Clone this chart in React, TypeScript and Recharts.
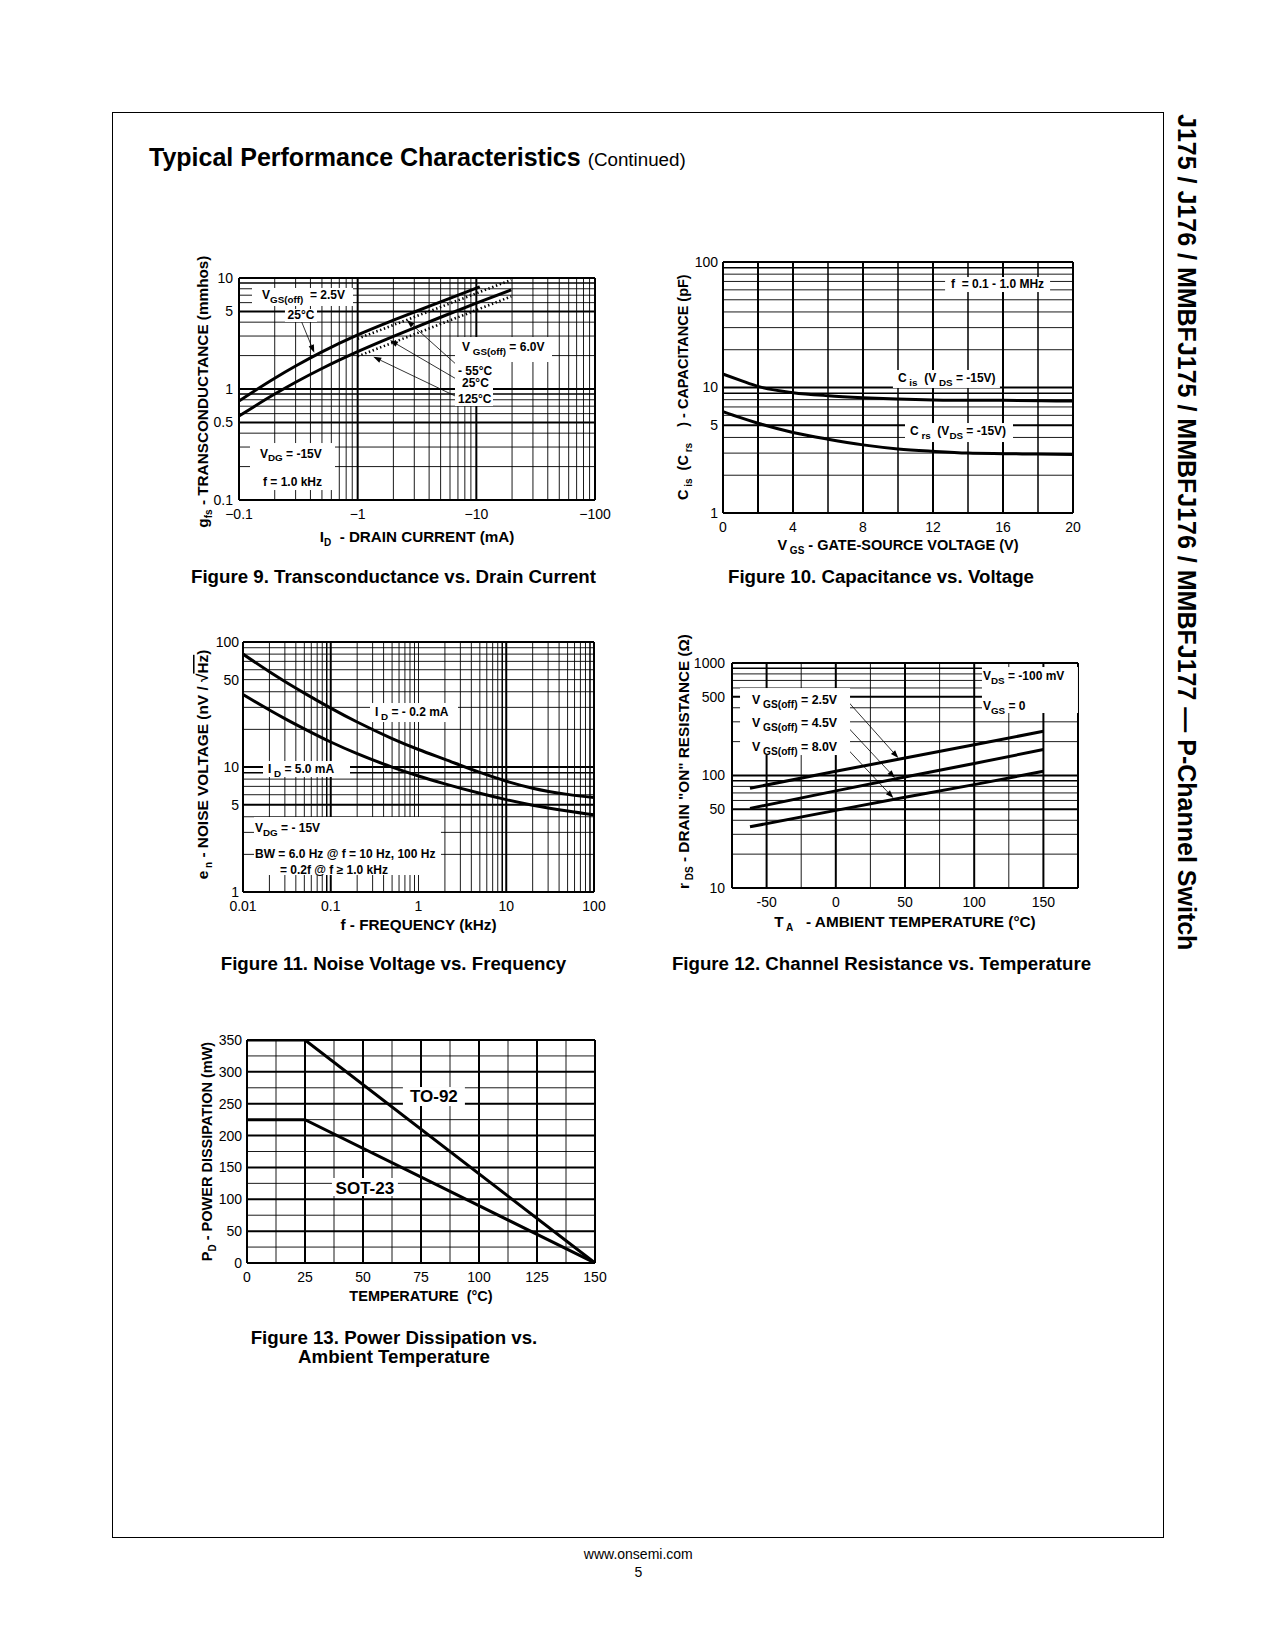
import React from 'react';
import { LineChart, Line, XAxis, YAxis, ReferenceLine, ReferenceDot, Label } from 'recharts';

const FONT = "'Liberation Sans', Arial, Helvetica, sans-serif";

type Pt = { x: number; y: number };
type Part = { t: string; sub?: boolean; over?: boolean };
const P = (t: string, sub = false): Part => ({ t, sub });

// ---------------- Figure 9: Transconductance vs. Drain Current ----------------
const fig9XTicks = [0.1, 1, 10, 100];
const fig9YTicks = [0.1, 0.5, 1, 5, 10];
const fig9Vgs25_25C: Pt[] = [
  { x: 0.1, y: 0.78 }, { x: 0.2, y: 1.25 }, { x: 0.3, y: 1.61 }, { x: 0.5, y: 2.16 }, { x: 1, y: 3.07 },
  { x: 2, y: 4.17 }, { x: 3, y: 4.94 }, { x: 5, y: 6.09 }, { x: 10, y: 8.09 }, { x: 10.7, y: 8.32 },
];
const fig9Vgs60_25C: Pt[] = [
  { x: 0.1, y: 0.57 }, { x: 0.2, y: 0.9 }, { x: 0.3, y: 1.15 }, { x: 0.5, y: 1.53 }, { x: 1, y: 2.17 },
  { x: 2, y: 2.98 }, { x: 3, y: 3.56 }, { x: 5, y: 4.43 }, { x: 10, y: 5.93 }, { x: 19.7, y: 7.83 },
];
const fig9Vgs60_m55C: Pt[] = [
  { x: 1, y: 2.84 }, { x: 2, y: 3.77 }, { x: 3, y: 4.45 }, { x: 5, y: 5.48 }, { x: 10, y: 7.28 }, { x: 19.7, y: 9.6 },
];
const fig9Vgs60_125C: Pt[] = [
  { x: 1, y: 1.97 }, { x: 2, y: 2.63 }, { x: 3, y: 3.11 }, { x: 5, y: 3.85 }, { x: 10, y: 5.14 }, { x: 19.7, y: 6.83 },
];

// ---------------- Figure 10: Capacitance vs. Voltage ----------------
const fig10XTicks = [0, 4, 8, 12, 16, 20];
const fig10YTicks = [1, 5, 10, 100];
const fig10Cis: Pt[] = [
  { x: 0, y: 12.8 }, { x: 1, y: 11.4 }, { x: 2, y: 10.2 }, { x: 4, y: 9.1 }, { x: 6, y: 8.6 }, { x: 8, y: 8.3 },
  { x: 10, y: 8.1 }, { x: 12, y: 7.96 }, { x: 14, y: 7.9 }, { x: 16, y: 7.9 }, { x: 20, y: 7.8 },
];
const fig10Crs: Pt[] = [
  { x: 0, y: 6.43 }, { x: 1, y: 5.75 }, { x: 2, y: 5.19 }, { x: 4, y: 4.38 }, { x: 6, y: 3.87 }, { x: 8, y: 3.49 },
  { x: 10, y: 3.24 }, { x: 12, y: 3.1 }, { x: 14, y: 3.0 }, { x: 16, y: 2.97 }, { x: 18, y: 2.95 }, { x: 20, y: 2.93 },
];

// ---------------- Figure 11: Noise Voltage vs. Frequency ----------------
const fig11XTicks = [0.01, 0.1, 1, 10, 100];
const fig11YTicks = [1, 5, 10, 50, 100];
const fig11Id02: Pt[] = [
  { x: 0.01, y: 80 }, { x: 0.02, y: 57.8 }, { x: 0.03, y: 48.3 }, { x: 0.05, y: 39 }, { x: 0.1, y: 29.6 }, { x: 0.2, y: 22.9 },
  { x: 0.5, y: 16.9 }, { x: 1, y: 13.8 }, { x: 2, y: 11.5 }, { x: 5, y: 9.06 }, { x: 10, y: 7.7 }, { x: 20, y: 6.77 },
  { x: 50, y: 6.04 }, { x: 100, y: 5.71 },
];
const fig11Id50: Pt[] = [
  { x: 0.01, y: 38 }, { x: 0.02, y: 28.6 }, { x: 0.03, y: 24.4 }, { x: 0.05, y: 20.2 }, { x: 0.1, y: 15.85 }, { x: 0.2, y: 12.78 },
  { x: 0.5, y: 9.98 }, { x: 1, y: 8.48 }, { x: 2, y: 7.33 }, { x: 5, y: 6.16 }, { x: 10, y: 5.48 }, { x: 20, y: 4.95 },
  { x: 50, y: 4.44 }, { x: 100, y: 4.14 },
];

// ---------------- Figure 12: Channel Resistance vs. Temperature ----------------
const fig12XTicks = [-50, 0, 50, 100, 150];
const fig12YTicks = [10, 50, 100, 500, 1000];
const fig12Vgs25: Pt[] = [{ x: -62, y: 77 }, { x: 0, y: 109 }, { x: 50, y: 143 }, { x: 100, y: 188 }, { x: 150, y: 247 }];
const fig12Vgs45: Pt[] = [{ x: -62, y: 51 }, { x: 0, y: 73 }, { x: 50, y: 97 }, { x: 100, y: 128 }, { x: 150, y: 170 }];
const fig12Vgs80: Pt[] = [{ x: -62, y: 35 }, { x: 0, y: 49 }, { x: 50, y: 64 }, { x: 100, y: 83 }, { x: 150, y: 109 }];

// ---------------- Figure 13: Power Dissipation vs. Ambient Temperature ----------------
const fig13XTicks = [0, 25, 50, 75, 100, 125, 150];
const fig13YTicks = [0, 50, 100, 150, 200, 250, 300, 350];
const fig13To92: Pt[] = [{ x: 0, y: 350 }, { x: 25, y: 350 }, { x: 150, y: 0 }];
const fig13Sot23: Pt[] = [{ x: 0, y: 225 }, { x: 25, y: 225 }, { x: 150, y: 0 }];

// ---------------- helpers ----------------
const logSteps = (lo: number, hi: number) => {
  const out: number[] = [];
  for (let d = lo; d < hi * 0.999; d = +(d * 10).toPrecision(3)) {
    for (let k = 1; k <= 9; k++) out.push(+(d * k).toPrecision(3));
  }
  out.push(hi);
  return out;
};
const linSteps = (lo: number, hi: number, step: number) => {
  const out: number[] = [];
  for (let v = lo; v <= hi + 1e-9; v += step) out.push(+v.toFixed(4));
  return out;
};
type Grid = { v: number; w: number }[];
const gridOf = (vals: number[], thick: number[], mid: number[] = []): Grid =>
  vals.map((v) => ({ v, w: thick.includes(v) ? 2 : mid.includes(v) ? 1.5 : 0.9 }));

function rich(parts: Part[], fs: number, subFs: number, shift: number) {
  let cur = 0;
  return parts.map((p, i) => {
    const target = p.sub ? shift : 0;
    const dy = target - cur;
    cur = target;
    return (
      <tspan
        key={i}
        dy={dy !== 0 ? dy : undefined}
        fontSize={p.sub ? subFs : fs}
        textDecoration={p.over ? 'overline' : undefined}
      >
        {p.t}
      </tspan>
    );
  });
}

type Series = { data: Pt[]; dotted?: boolean; curve: 'monotone' | 'linear' };
type AnnLine = { dx: number; dy: number; parts: Part[]; anchor?: 'start' | 'middle' };
type Ann = { x: number; y: number; w: number; h: number; fs: number; lines: AnnLine[] };
type Arrow = { from: Pt; to: Pt };
type FigSpec = {
  plot: [number, number, number, number];
  xLog: boolean;
  yLog: boolean;
  xDomain: [number, number];
  yDomain: [number, number];
  xTicks: number[];
  yTicks: number[];
  xFmt?: (v: number) => string;
  xGrid: Grid;
  yGrid: Grid;
  series: Series[];
  anns: Ann[];
  arrows: Arrow[];
  xTitle: Part[];
  yTitle: Part[];
  xTitleFs: number;
  yTitleFs: number;
  xTitleDy: number;
  yTitleDx: number;
  yTitleDy: number;
  yTickGap: number;
};

const ML = 70, MT = 30, MR = 30, MB = 60, YW = 40, XH = 30;

function ArrowShape(props: any) {
  const { x1, y1, x2, y2 } = props;
  if ([x1, y1, x2, y2].some((v) => typeof v !== 'number' || isNaN(v))) return <g />;
  const ang = Math.atan2(y2 - y1, x2 - x1);
  const L = 8, Wd = 2.8;
  const bx = x2 - L * Math.cos(ang), by = y2 - L * Math.sin(ang);
  const px = -Math.sin(ang) * Wd, py = Math.cos(ang) * Wd;
  return (
    <g>
      <line x1={x1} y1={y1} x2={bx} y2={by} stroke="#000" strokeWidth={0.8} />
      <polygon points={`${x2},${y2} ${bx + px},${by + py} ${bx - px},${by - py}`} fill="#000" />
    </g>
  );
}

function AnnShape({ a, cx, cy }: { a: Ann; cx: number; cy: number }) {
  if (typeof cx !== 'number' || typeof cy !== 'number') return <g />;
  return (
    <g>
      <rect x={cx} y={cy} width={a.w} height={a.h} fill="#fff" />
      {a.lines.map((ln, i) => (
        <text
          key={i}
          x={cx + ln.dx}
          y={cy + ln.dy}
          textAnchor={ln.anchor || 'start'}
          fontFamily={FONT}
          fontWeight="bold"
          fontSize={a.fs}
          fill="#000"
          style={{ whiteSpace: 'pre' }}
        >
          {rich(ln.parts, a.fs, a.fs * 0.82, a.fs * 0.33)}
        </text>
      ))}
    </g>
  );
}

function Fig({ s }: { s: FigSpec }) {
  const [PL, PT, PR, PB] = s.plot;
  const pw = PR - PL, ph = PB - PT;
  const W = pw + ML + MR, H = ph + MT + MB;
  const tickStyle = { fill: '#000', fontSize: 14, fontFamily: FONT };
  const xt = ML + pw / 2, yt = MT + ph + s.xTitleDy;
  const yx = ML + s.yTitleDx, yy = MT + ph / 2 + s.yTitleDy;
  const XTitle = () => (
    <text x={xt} y={yt} textAnchor="middle" fontFamily={FONT} fontWeight="bold" fontSize={s.xTitleFs} fill="#000" style={{ whiteSpace: 'pre' }}>
      {rich(s.xTitle, s.xTitleFs, 10, 4)}
    </text>
  );
  const YTitle = () => (
    <text
      x={yx}
      y={yy}
      textAnchor="middle"
      transform={`rotate(-90 ${yx} ${yy})`}
      fontFamily={FONT}
      fontWeight="bold"
      fontSize={s.yTitleFs}
      fill="#000"
      style={{ whiteSpace: 'pre' }}
    >
      {rich(s.yTitle, s.yTitleFs, 10, 4)}
    </text>
  );
  return (
    <div style={{ position: 'absolute', left: PL - ML, top: PT - MT, width: W, height: H }}>
      <LineChart width={W} height={H} margin={{ top: MT, right: MR, bottom: MB - XH, left: ML - YW }}>
        <XAxis
          type="number"
          dataKey="x"
          scale={s.xLog ? 'log' : 'linear'}
          domain={s.xDomain}
          allowDataOverflow
          ticks={s.xTicks}
          interval={0}
          tickFormatter={s.xFmt}
          axisLine={false}
          tickLine={false}
          tickSize={0}
          tickMargin={9}
          height={XH}
          tick={tickStyle}
        >
          <Label content={XTitle} />
        </XAxis>
        <YAxis
          type="number"
          dataKey="y"
          scale={s.yLog ? 'log' : 'linear'}
          domain={s.yDomain}
          allowDataOverflow
          ticks={s.yTicks}
          interval={0}
          axisLine={false}
          tickLine={false}
          tickSize={0}
          tickMargin={s.yTickGap}
          width={YW}
          tick={tickStyle}
        >
          <Label content={YTitle} />
        </YAxis>
        {s.xGrid.map((g, i) => (
          <ReferenceLine key={'gx' + i} x={g.v} stroke="#000" strokeWidth={g.w} />
        ))}
        {s.yGrid.map((g, i) => (
          <ReferenceLine key={'gy' + i} y={g.v} stroke="#000" strokeWidth={g.w} />
        ))}
        {s.series.map((se, i) => (
          <Line
            key={'s' + i}
            data={se.data}
            dataKey="y"
            type={se.curve}
            stroke="#000"
            strokeWidth={se.dotted ? 2.6 : 3}
            strokeDasharray={se.dotted ? '1.4 2.6' : undefined}
            dot={false}
            activeDot={false}
            isAnimationActive={false}
          />
        ))}
        {s.anns.map((a, i) => (
          <ReferenceDot key={'a' + i} x={a.x} y={a.y} r={0} shape={(p: any) => <AnnShape a={a} cx={p.cx} cy={p.cy} />} />
        ))}
        {s.arrows.map((ar, i) => (
          <ReferenceLine key={'r' + i} segment={[ar.from, ar.to]} shape={(p: any) => <ArrowShape {...p} />} />
        ))}
      </LineChart>
    </div>
  );
}

// ---------------- figure specs ----------------
const vgsOff = (v: string): Part[] => [P('V'), P(' GS(off)', true), P(' = ' + v)];

const fig9: FigSpec = {
  plot: [239, 278, 595, 500],
  xLog: true,
  yLog: true,
  xDomain: [0.1, 100],
  yDomain: [0.1, 10],
  xTicks: fig9XTicks,
  yTicks: fig9YTicks,
  xFmt: (v) => '\u2212' + v,
  xGrid: gridOf(logSteps(0.1, 100), [0.1, 1, 10, 100]),
  yGrid: gridOf(logSteps(0.1, 10), [0.1, 0.5, 1, 5, 10], [0.9, 9]),
  series: [
    { data: fig9Vgs25_25C, curve: 'monotone' },
    { data: fig9Vgs60_25C, curve: 'monotone' },
    { data: fig9Vgs60_m55C, curve: 'monotone', dotted: true },
    { data: fig9Vgs60_125C, curve: 'monotone', dotted: true },
  ],
  anns: [
    { x: 0.1287, y: 8.13, w: 101, h: 18, fs: 12, lines: [{ dx: 10, dy: 11.5, parts: [P('V'), P('GS(off)', true), P('  = 2.5V')] }] },
    { x: 0.244, y: 5.26, w: 32, h: 13, fs: 12, lines: [{ dx: 16, dy: 10.5, anchor: 'middle', parts: [P('25°C')] }] },
    { x: 6.61, y: 2.94, w: 97, h: 25, fs: 12, lines: [{ dx: 7, dy: 14, parts: vgsOff('6.0V') }] },
    {
      x: 6.61, y: 1.75, w: 38, h: 44, fs: 12,
      lines: [
        { dx: 3, dy: 13, parts: [P('- 55°C')] },
        { dx: 7, dy: 25, parts: [P('25°C')] },
        { dx: 3, dy: 41, parts: [P('125°C')] },
      ],
    },
    {
      x: 0.1238, y: 0.326, w: 85, h: 47, fs: 12,
      lines: [
        { dx: 10, dy: 14.5, parts: [P('V'), P('DG', true), P(' = -15V')] },
        { dx: 13, dy: 43, parts: [P('f = 1.0 kHz')] },
      ],
    },
  ],
  arrows: [
    { from: { x: 0.3376, y: 4.01 }, to: { x: 0.431, y: 2.12 } },
    { from: { x: 7.01, y: 1.61 }, to: { x: 2.59, y: 4.18 } },
    { from: { x: 7.01, y: 1.205 }, to: { x: 1.873, y: 2.75 } },
    { from: { x: 6.83, y: 0.852 }, to: { x: 1.354, y: 1.95 } },
  ],
  xTitle: [P('I'), P('D', true), P('  - DRAIN CURRENT (mA)')],
  yTitle: [P('g'), P('fs', true), P(' - TRANSCONDUCTANCE (mmhos)')],
  xTitleFs: 15.2,
  yTitleFs: 15.3,
  xTitleDy: 41.7,
  yTitleDx: -31,
  yTitleDy: 2.6,
  yTickGap: 6,
};

const fig10: FigSpec = {
  plot: [723, 262, 1073, 513],
  xLog: false,
  yLog: true,
  xDomain: [0, 20],
  yDomain: [1, 100],
  xTicks: fig10XTicks,
  yTicks: fig10YTicks,
  xGrid: gridOf(linSteps(0, 20, 2), [0, 2, 4, 8, 12, 16, 20], [6, 10, 14, 18]),
  yGrid: gridOf(logSteps(1, 100), [1, 5, 10, 100], [9, 90]),
  series: [
    { data: fig10Cis, curve: 'monotone' },
    { data: fig10Crs, curve: 'monotone' },
  ],
  anns: [
    { x: 12.69, y: 75.9, w: 105, h: 15, fs: 12, lines: [{ dx: 52.5, dy: 10.8, anchor: 'middle', parts: [P('f  = 0.1 - 1.0 MHz')] }] },
    { x: 9.71, y: 13.79, w: 107, h: 18, fs: 12, lines: [{ dx: 5, dy: 12.5, parts: [P('C'), P(' is', true), P('  (V'), P(' DS', true), P(' = -15V)')] }] },
    { x: 10.4, y: 5.21, w: 108, h: 19, fs: 12, lines: [{ dx: 5, dy: 12, parts: [P('C'), P(' rs', true), P('  (V'), P('DS', true), P(' = -15V)')] }] },
  ],
  arrows: [],
  xTitle: [P('V'), P(' GS', true), P(' - GATE-SOURCE VOLTAGE (V)')],
  yTitle: [P('C'), P(' is', true), P('  (C'), P(' rs', true), P('    ) - CAPACITANCE (pF)')],
  xTitleFs: 14.5,
  yTitleFs: 14.5,
  xTitleDy: 36.7,
  yTitleDx: -35,
  yTitleDy: -0.3,
  yTickGap: 5,
};

const fig11: FigSpec = {
  plot: [243, 642, 594, 892],
  xLog: true,
  yLog: true,
  xDomain: [0.01, 100],
  yDomain: [1, 100],
  xTicks: fig11XTicks,
  yTicks: fig11YTicks,
  xGrid: gridOf(logSteps(0.01, 100), [0.01, 0.1, 10, 100], [0.09, 9, 90]),
  yGrid: gridOf(logSteps(1, 100), [1, 5, 10, 100], [9]),
  series: [
    { data: fig11Id02, curve: 'monotone' },
    { data: fig11Id50, curve: 'monotone' },
  ],
  anns: [
    { x: 0.28, y: 32.5, w: 88, h: 19, fs: 12, lines: [{ dx: 5, dy: 13, parts: [P('I'), P(' D', true), P(' = - 0.2 mA')] }] },
    { x: 0.0169, y: 11.17, w: 87, h: 16, fs: 12, lines: [{ dx: 5, dy: 12, parts: [P('I'), P(' D', true), P(' = 5.0 mA')] }] },
    {
      x: 0.01334, y: 3.98, w: 187, h: 58, fs: 12,
      lines: [
        { dx: 1, dy: 15, parts: [P('V'), P('DG', true), P(' = - 15V')] },
        { dx: 1, dy: 41, parts: [P('BW = 6.0 Hz @ f = 10 Hz, 100 Hz')] },
        { dx: 26, dy: 57, parts: [P('= 0.2f @ f \u2265 1.0 kHz')] },
      ],
    },
  ],
  arrows: [],
  xTitle: [P('f - FREQUENCY (kHz)')],
  yTitle: [P('e'), P(' n', true), P(' - NOISE VOLTAGE (nV / \u221A'), { t: 'Hz', over: true }, P(')')],
  xTitleFs: 15.3,
  yTitleFs: 15.4,
  xTitleDy: 38.3,
  yTitleDx: -35,
  yTitleDy: -2.5,
  yTickGap: 4,
};

const fig12: FigSpec = {
  plot: [732, 663, 1078, 888],
  xLog: false,
  yLog: true,
  xDomain: [-75, 175],
  yDomain: [10, 1000],
  xTicks: fig12XTicks,
  yTicks: fig12YTicks,
  xGrid: gridOf(linSteps(-75, 175, 25), [-75, -50, 0, 50, 100, 150, 175]),
  yGrid: gridOf(logSteps(10, 1000), [10, 50, 100, 500, 1000], [90, 900]),
  series: [
    { data: fig12Vgs25, curve: 'linear' },
    { data: fig12Vgs45, curve: 'linear' },
    { data: fig12Vgs80, curve: 'linear' },
  ],
  anns: [
    {
      x: 105.6, y: 921, w: 96, h: 46, fs: 12,
      lines: [
        { dx: 1, dy: 13, parts: [P('V'), P('DS', true), P(' = -100 mV')] },
        { dx: 1, dy: 43, parts: [P('V'), P('GS', true), P(' = 0')] },
      ],
    },
    {
      x: -69.2, y: 599, w: 110, h: 67, fs: 12.4,
      lines: [
        { dx: 12, dy: 16, parts: vgsOff('2.5V') },
        { dx: 12, dy: 39, parts: vgsOff('4.5V') },
        { dx: 12, dy: 63, parts: vgsOff('8.0V') },
      ],
    },
  ],
  arrows: [
    { from: { x: 5.5, y: 505 }, to: { x: 45.2, y: 143 } },
    { from: { x: 5.5, y: 296 }, to: { x: 42.8, y: 95 } },
    { from: { x: 5.5, y: 188 }, to: { x: 41.6, y: 63 } },
  ],
  xTitle: [P('T'), P(' A', true), P('   - AMBIENT TEMPERATURE (°C)')],
  yTitle: [P('r'), P(' DS', true), P(' - DRAIN "ON" RESISTANCE (\u03A9)')],
  xTitleFs: 15.3,
  yTitleFs: 15.3,
  xTitleDy: 39.4,
  yTitleDx: -43.4,
  yTitleDy: -14,
  yTickGap: 7,
};

const fig13: FigSpec = {
  plot: [247, 1040, 595, 1263],
  xLog: false,
  yLog: false,
  xDomain: [0, 150],
  yDomain: [0, 350],
  xTicks: fig13XTicks,
  yTicks: fig13YTicks,
  xGrid: gridOf(linSteps(0, 150, 12.5), [0, 25, 50, 75, 100, 125, 150]),
  yGrid: gridOf(linSteps(0, 350, 25), [0, 50, 100, 150, 200, 250, 300, 350]),
  series: [
    { data: fig13To92, curve: 'linear' },
    { data: fig13Sot23, curve: 'linear' },
  ],
  anns: [
    { x: 67.2, y: 276.2, w: 62, h: 19, fs: 17, lines: [{ dx: 31, dy: 15, anchor: 'middle', parts: [P('TO-92')] }] },
    { x: 36.6, y: 133.4, w: 66, h: 18, fs: 17, lines: [{ dx: 33, dy: 15.5, anchor: 'middle', parts: [P('SOT-23')] }] },
  ],
  arrows: [],
  xTitle: [P('TEMPERATURE  (°C)')],
  yTitle: [P('P'), P('D', true), P(' - POWER DISSIPATION (mW)')],
  xTitleFs: 14.5,
  yTitleFs: 14.5,
  xTitleDy: 38.4,
  yTitleDx: -35,
  yTitleDy: 0,
  yTickGap: 5,
};

// ---------------- page texts ----------------
const captions = [
  { text: 'Figure 9. Transconductance vs. Drain Current', cx: 393.5, base: 584 },
  { text: 'Figure 10. Capacitance vs. Voltage', cx: 881, base: 584 },
  { text: 'Figure 11. Noise Voltage vs. Frequency', cx: 393.5, base: 971 },
  { text: 'Figure 12. Channel Resistance vs. Temperature', cx: 881.5, base: 971 },
  { text: 'Figure 13. Power Dissipation vs.', cx: 394, base: 1345 },
  { text: 'Ambient Temperature', cx: 394, base: 1363.5 },
];

function BaseText({ text, cx, left, base, fs, bold, anchor }: { text: string; cx?: number; left?: number; base: number; fs: number; bold?: boolean; anchor?: 'middle' | 'start' }) {
  const top = base - fs * 0.8465;
  const style: React.CSSProperties = {
    position: 'absolute',
    top,
    fontSize: fs,
    lineHeight: fs + 'px',
    fontFamily: FONT,
    fontWeight: bold ? 'bold' : 'normal',
    whiteSpace: 'nowrap',
    color: '#000',
  };
  if (anchor === 'middle' && cx !== undefined) {
    style.left = cx - 400;
    style.width = 800;
    style.textAlign = 'center';
  } else {
    style.left = left;
  }
  return <div style={style}>{text}</div>;
}

export default function App() {
  return (
    <div style={{ position: 'absolute', left: 0, top: 0, width: 1275, height: 1650, background: '#fff', fontFamily: FONT }}>
      <div style={{ position: 'absolute', left: 112, top: 112, width: 1052, height: 1426, border: '1px solid #000', boxSizing: 'border-box' }} />
      <div
        style={{
          position: 'absolute',
          left: 149,
          top: 166 - 25 * 0.8465,
          fontSize: 25,
          lineHeight: '25px',
          fontWeight: 'bold',
          whiteSpace: 'nowrap',
          fontFamily: FONT,
        }}
      >
        Typical Performance Characteristics <span style={{ fontSize: 18.8, fontWeight: 'normal' }}>(Continued)</span>
      </div>
      <div
        style={{
          position: 'absolute',
          left: 1199,
          top: 114,
          transform: 'rotate(90deg)',
          transformOrigin: '0 0',
          fontSize: 25,
          lineHeight: '25px',
          fontWeight: 'bold',
          whiteSpace: 'nowrap',
          fontFamily: FONT,
        }}
      >
        J175 / J176 / MMBFJ175 / MMBFJ176 / MMBFJ177 — P-Channel Switch
      </div>
      <Fig s={fig9} />
      <Fig s={fig10} />
      <Fig s={fig11} />
      <Fig s={fig12} />
      <Fig s={fig13} />
      {captions.map((c, i) => (
        <BaseText key={i} text={c.text} cx={c.cx} base={c.base} fs={18.7} bold anchor="middle" />
      ))}
      <BaseText text="www.onsemi.com" cx={638.3} base={1558.5} fs={14} anchor="middle" />
      <BaseText text="5" cx={638.3} base={1577} fs={14} anchor="middle" />
    </div>
  );
}
